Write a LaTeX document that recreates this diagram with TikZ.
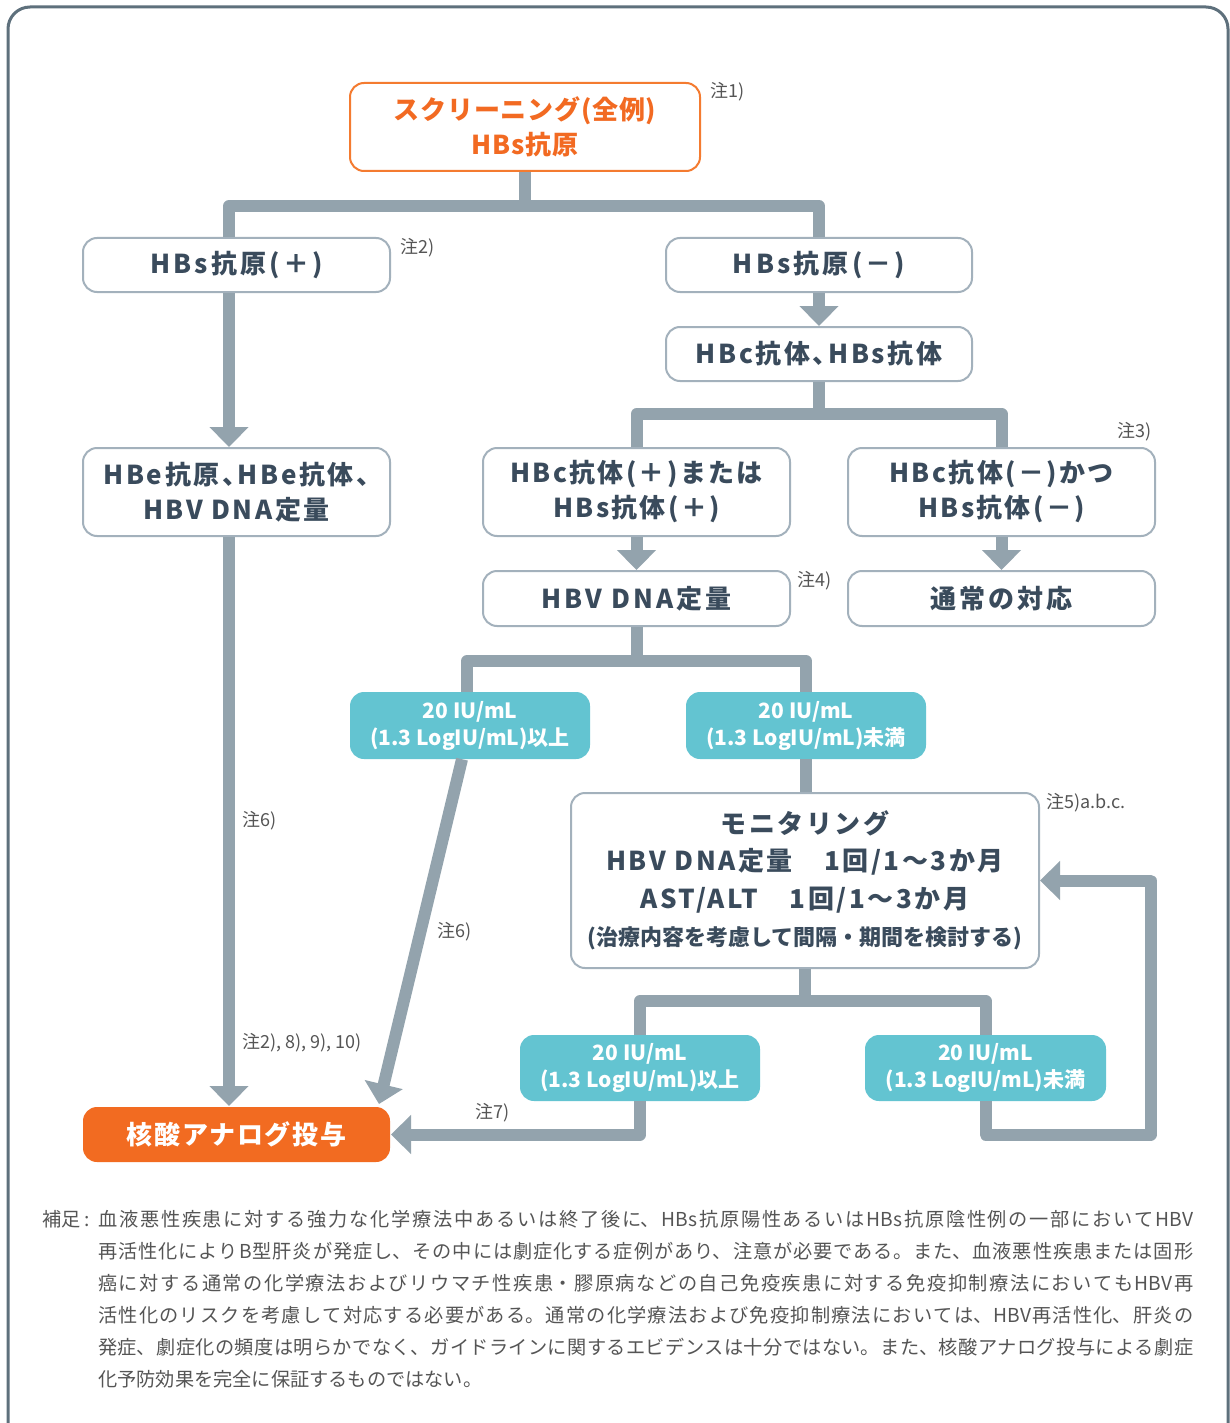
\documentclass[tikz,border=0pt]{standalone}
\usepackage{fontspec}
\setmainfont{Noto Sans CJK JP}
\usetikzlibrary{arrows.meta,calc}
\XeTeXlinebreaklocale "ja"
\XeTeXlinebreakskip=0pt plus 2pt
\definecolor{conncol}{HTML}{93A3AD}
\definecolor{boxcol}{HTML}{A3B1BC}
\definecolor{txtcol}{HTML}{3A4B5C}
\definecolor{orline}{HTML}{F47B30}
\definecolor{ortxt}{HTML}{F26A22}
\definecolor{orfill}{HTML}{F26B21}
\definecolor{tealcol}{HTML}{63C4D1}
\definecolor{notecol}{HTML}{555555}
\definecolor{framecol}{HTML}{5E707C}
\newcommand\bxfont{\fontsize{26}{35}\selectfont\bfseries\addfontfeatures{LetterSpace=12}}
\newcommand\bxhfont{\fontsize{26}{35}\selectfont\bfseries\addfontfeatures{LetterSpace=10,CharacterWidth=AlternateHalf}}
\newcommand\topfont{\fontsize{26}{35}\selectfont\bfseries\addfontfeatures{LetterSpace=3}}
\newcommand\monfont{\fontsize{26}{37.5}\selectfont\bfseries\addfontfeatures{LetterSpace=10}}
\newcommand\monsmall{\fontsize{22}{26}\selectfont\bfseries\addfontfeatures{LetterSpace=0}}
\newcommand\tlfont{\fontsize{21}{27}\selectfont\bfseries}
\newcommand\notefont{\fontsize{18}{22}\selectfont}
\newcommand\fnfont{\fontsize{19.2}{32}\selectfont}
\begin{document}
\begin{tikzpicture}[x=1pt,y=-1pt,
  box/.style={draw=boxcol, line width=2pt, rounded corners=14pt, fill=white,
    inner sep=0pt, align=center, text=txtcol, font=\bxfont},
  tealbox/.style={fill=tealcol, rounded corners=14pt, inner sep=0pt, align=center,
    text=white, font=\tlfont, minimum width=240pt, minimum height=67pt},
  conn/.style={draw=conncol, line width=12pt, line join=round},
  arr/.style={conn, -{Triangle[width=38pt,length=20pt]}},
  note/.style={anchor=west, inner sep=0pt, text=notecol, font=\notefont}]
\clip (0,0) rectangle (1230,1423);
\fill[white] (0,0) rectangle (1230,1423);
\draw[framecol, line width=3pt, rounded corners=22pt] (8,7) rectangle (1228,1470);

% nodes
\node[box, draw=orline, text=ortxt, font=\topfont, minimum width=350pt, minimum height=88pt] (top) at (525,127) {スクリーニング(全例)\\HBs抗原};
\node[box, minimum width=307pt, minimum height=54pt] (hbsp) at (236.5,265) {HBs抗原(＋)};
\node[box, minimum width=306pt, minimum height=54pt] (hbsn) at (819,265) {HBs抗原(－)};
\node[box, font=\bxhfont, minimum width=306pt, minimum height=54pt] (hbcs) at (819,354) {HBc抗体、HBs抗体};
\node[box, font=\bxhfont, minimum width=307pt, minimum height=88pt] (hbe) at (236.5,492) {HBe抗原、HBe抗体、\\HBV DNA定量};
\node[box, font=\bxfont\addfontfeatures{LetterSpace=9}, minimum width=307pt, minimum height=88pt] (hbcp) at (636.5,492) {HBc抗体(＋)または\\HBs抗体(＋)};
\node[box, font=\bxfont\addfontfeatures{LetterSpace=9}, minimum width=307pt, minimum height=88pt] (hbcn) at (1001.5,492) {HBc抗体(－)かつ\\HBs抗体(－)};
\node[box, minimum width=307pt, minimum height=55pt] (dna) at (636.5,598.5) {HBV DNA定量};
\node[box, minimum width=307pt, minimum height=55pt] (usual) at (1001.5,598.5) {通常の対応};
\node[tealbox] (tA) at (470,725.5) {20 IU/mL\\(1.3 LogIU/mL)以上};
\node[tealbox] (tB) at (806,725.5) {20 IU/mL\\(1.3 LogIU/mL)未満};
\node[box, font=\monfont, minimum width=468pt, minimum height=175pt] (mon) at (805,880.5)
  {モニタリング\\HBV DNA定量　1回/1～3か月\\AST/ALT　1回/1～3か月\\{\monsmall (治療内容を考慮して間隔・期間を検討する)}};
\node[tealbox, minimum height=66pt] (tC) at (640,1068) {20 IU/mL\\(1.3 LogIU/mL)以上};
\node[tealbox, minimum width=241pt, minimum height=66pt] (tD) at (985.5,1068) {20 IU/mL\\(1.3 LogIU/mL)未満};
\node[box, draw=none, fill=orfill, text=white, font=\fontsize{26}{35}\selectfont\bfseries\addfontfeatures{LetterSpace=7}, minimum width=307pt, minimum height=55pt] (core) at (236.5,1134.5) {核酸アナログ投与};

\coordinate (lc) at ($(hbsp.center)+(-7.5,0)$);

% connectors
\draw[conn] (top.south) -- ++(0,34) coordinate (b1);
\draw[conn] (lc |- hbsp.north) |- (b1) -| (hbsn.north);
\draw[arr] (hbsn.south) -- (hbcs.north);
\draw[arr] (lc |- hbsp.south) -- (lc |- hbe.north);
\draw[conn] (hbcs.south) -- ++(0,32) coordinate (b2);
\draw[conn] (hbcp.north) |- (b2) -| (hbcn.north);
\draw[arr] (hbcp.south) -- (dna.north);
\draw[arr] (hbcn.south) -- (usual.north);
\draw[conn] (dna.south) -- ++(0,34) coordinate (b3);
\draw[conn] ($(tA.north)+(-3,0)$) |- (b3) -| (tB.north);
\draw[conn] (tB.south) -- (tB.south |- mon.north);
\draw[arr] ($(tA.south)+(-8,0)$) -- ($(core.north east)+(-12,-2)$);
\draw[arr] (lc |- hbe.south) -- (lc |- core.north);
\draw[conn] (mon.south) -- ++(0,32) coordinate (b4);
\draw[conn] (tC.north) |- (b4) -| (tD.north);
\draw[arr] (tC.south) |- (core.east);
\draw[arr] (tD.south) -- (tD.south |- core.east) -- ++(165,0) |- (mon.east);

% notes
\node[note] (n1) at (710,92) {注1)};
\node[note] (n2) at (400,248) {注2)};
\node[note] (n3) at (1117,432) {注3)};
\node[note] (n4) at (797,581) {注4)};
\node[note] (n5) at (1046,803) {注5)a.b.c.};
\node[note] (n6a) at (242,821) {注6)};
\node[note] (n6b) at (437,932) {注6)};
\node[note] (n8) at (242,1043) {注2), 8), 9), 10)};
\node[note] (n7) at (475,1113) {注7)};

% footnote
\node[anchor=north west, inner sep=0pt, text=notecol, font=\fnfont] (fnh) at (42,1210) {補足 :};
\node[anchor=north west, inner sep=0pt, text=notecol, font=\fnfont, text width=1095pt, align=justify] (fn) at (98,1210) {%
血液悪性疾患に対する強力な化学療法中あるいは終了後に、HBs抗原陽性あるいはHBs抗原陰性例の一部においてHBV\linebreak
再活性化によりB型肝炎が発症し、その中には劇症化する症例があり、注意が必要である。また、血液悪性疾患または固形\linebreak
癌に対する通常の化学療法およびリウマチ性疾患・膠原病などの自己免疫疾患に対する免疫抑制療法においてもHBV再\linebreak
活性化のリスクを考慮して対応する必要がある。通常の化学療法および免疫抑制療法においては、HBV再活性化、肝炎の\linebreak
発症、劇症化の頻度は明らかでなく、ガイドラインに関するエビデンスは十分ではない。また、核酸アナログ投与による劇症\linebreak
化予防効果を完全に保証するものではない。};
\end{tikzpicture}
\end{document}
